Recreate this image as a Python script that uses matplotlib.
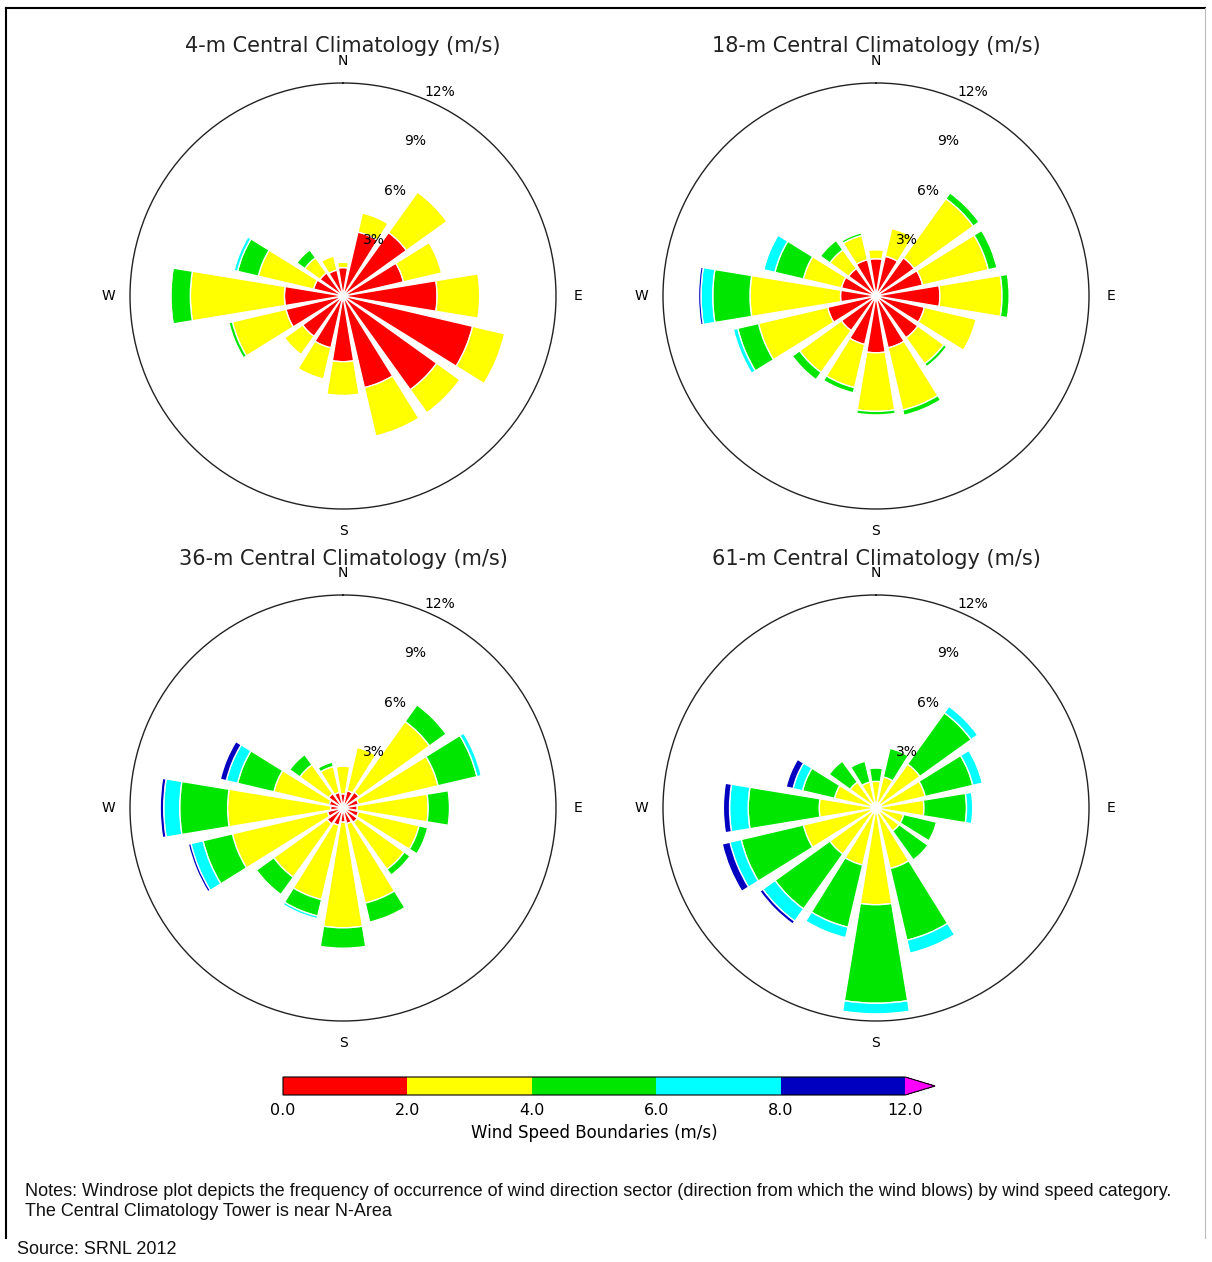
import numpy as np
import matplotlib
matplotlib.use("Agg")
import matplotlib.pyplot as plt
from matplotlib.colors import ListedColormap, BoundaryNorm
from matplotlib.cm import ScalarMappable
from matplotlib.lines import Line2D

# ---------------- data ----------------
directions = ["N", "NNE", "NE", "ENE", "E", "ESE", "SE", "SSE",
              "S", "SSW", "SW", "WSW", "W", "WNW", "NW", "NNW"]
speed_bounds = [0.0, 2.0, 4.0, 6.0, 8.0, 12.0]
speed_colors = ["#ff0000", "#ffff00", "#00e600", "#00ffff", "#0000c0"]
over_color = "#ff00ff"
titles = ["4-m Central Climatology (m/s)", "18-m Central Climatology (m/s)",
          "36-m Central Climatology (m/s)", "61-m Central Climatology (m/s)"]
r_ticks = [3, 6, 9, 12]
r_ticklabels = ["3%", "6%", "9%", "12%"]

# frequency (%) per direction for each speed class: 0-2, 2-4, 4-6, 6-8, 8-12 m/s
h4_c0 = [1.6, 3.7, 4.4, 3.5, 5.3, 7.5, 6.5, 5.3, 3.7, 3.0, 2.8, 3.3, 3.3, 1.7, 1.6, 1.5]
h4_c1 = [0.3, 1.1, 2.8, 2.2, 2.4, 1.85, 1.6, 2.8, 1.9, 1.8, 1.25, 3.1, 5.3, 3.2, 1.05, 0.8]
h4_c2 = [0, 0, 0, 0, 0, 0, 0, 0, 0, 0, 0, 0.2, 1.1, 1.2, 0.55, 0]
h4_c3 = [0, 0, 0, 0, 0, 0, 0, 0, 0, 0, 0, 0, 0.05, 0.2, 0, 0]
h4_c4 = [0, 0, 0, 0, 0, 0, 0, 0, 0, 0, 0, 0, 0, 0, 0, 0]

h18_c0 = [2.1, 2.3, 2.65, 2.7, 3.6, 2.8, 2.9, 3.0, 3.2, 2.8, 2.4, 2.8, 2.0, 2.0, 1.9, 2.1]
h18_c1 = [0.5, 1.6, 4.1, 3.8, 3.5, 3.0, 1.8, 3.6, 3.3, 2.5, 2.9, 4.0, 5.1, 2.2, 1.3, 1.4]
h18_c2 = [0, 0, 0.4, 0.5, 0.4, 0.05, 0.2, 0.3, 0.2, 0.3, 0.5, 1.2, 2.1, 1.65, 0.65, 0.15]
h18_c3 = [0, 0, 0, 0, 0, 0, 0, 0, 0, 0, 0, 0.25, 0.66, 0.65, 0, 0]
h18_c4 = [0, 0, 0, 0, 0, 0, 0, 0, 0, 0, 0, 0, 0.14, 0.05, 0, 0]

h36_c0 = [0.8, 1.0, 1.1, 0.9, 0.8, 0.9, 1.0, 0.9, 0.8, 1.0, 1.1, 0.9, 0.7, 0.8, 1.0, 0.9]
h36_c1 = [1.55, 2.5, 4.9, 4.6, 4.0, 3.5, 3.25, 4.6, 5.95, 4.3, 3.7, 5.5, 5.8, 3.2, 2.0, 1.5]
h36_c2 = [0, 0, 1.15, 2.25, 1.2, 0.5, 0.4, 1.1, 1.15, 0.95, 1.2, 1.7, 2.7, 2.1, 0.7, 0.25]
h36_c3 = [0, 0, 0, 0.25, 0, 0, 0, 0, 0, 0.15, 0, 0.7, 0.9, 0.65, 0, 0]
h36_c4 = [0, 0, 0, 0, 0, 0, 0, 0, 0, 0, 0, 0.15, 0.2, 0.35, 0, 0]

h61_c0 = [0.3, 0.3, 0.3, 0.3, 0.3, 0.3, 0.3, 0.3, 0.3, 0.3, 0.3, 0.3, 0.3, 0.3, 0.3, 0.3]
h61_c1 = [1.2, 1.5, 2.75, 2.55, 2.4, 1.3, 1.3, 3.2, 5.15, 3.0, 2.9, 3.9, 2.9, 2.1, 1.5, 1.2]
h61_c2 = [0.75, 1.65, 3.55, 2.75, 2.4, 1.9, 2.0, 4.15, 5.55, 3.6, 3.8, 3.6, 4.0, 1.85, 1.45, 1.2]
h61_c3 = [0, 0, 0.45, 0.55, 0.35, 0, 0, 0.75, 0.6, 0.6, 0.85, 0.65, 1.05, 0.55, 0, 0]
h61_c4 = [0, 0, 0, 0, 0, 0, 0, 0, 0, 0, 0.2, 0.45, 0.35, 0.4, 0, 0]

roses = [
    [h4_c0, h4_c1, h4_c2, h4_c3, h4_c4],
    [h18_c0, h18_c1, h18_c2, h18_c3, h18_c4],
    [h36_c0, h36_c1, h36_c2, h36_c3, h36_c4],
    [h61_c0, h61_c1, h61_c2, h61_c3, h61_c4],
]

note_line1 = ("Notes: Windrose plot depicts the frequency of occurrence of wind direction sector "
              "(direction from which the wind blows) by wind speed category.")
note_line2 = "The Central Climatology Tower is near N-Area"
source_text = "Source: SRNL 2012"

# ---------------- layout ----------------
W, H = 1212, 1262
fig = plt.figure(figsize=(W / 100, H / 100), dpi=100)
fig.patch.set_facecolor("white")

centers = [(343, 296), (876, 296), (343, 808), (876, 808)]
R = 213
title_y = [46, 46, 559, 559]

theta = np.deg2rad(np.arange(len(directions)) * 22.5)
bar_width = np.deg2rad(22.5) * 0.83

for i, (cx, cy) in enumerate(centers):
    ax = fig.add_axes([(cx - R) / W, 1 - (cy + R) / H, 2 * R / W, 2 * R / H],
                      projection="polar")
    ax.set_theta_zero_location("N")
    ax.set_theta_direction(-1)
    ax.set_axisbelow(False)
    bottom = np.zeros(len(directions))
    for vals, col in zip(roses[i], speed_colors):
        v = np.asarray(vals, dtype=float)
        mask = v > 0
        if mask.any():
            ax.bar(theta[mask], v[mask], width=bar_width, bottom=bottom[mask],
                   color=col, edgecolor="white", linewidth=1.0, align="center",
                   zorder=1)
        bottom = bottom + v
    ax.set_ylim(0, 12)
    ax.set_rgrids(r_ticks, labels=r_ticklabels, angle=22.5, fontsize=10)
    ax.set_xticks(np.deg2rad([0, 90, 180, 270]))
    ax.set_xticklabels(["N", "E", "S", "W"], fontsize=10)
    ax.tick_params(axis="x", pad=5)
    ax.grid(False)
    ax.spines["polar"].set_linewidth(1.0)
    ax.spines["polar"].set_color("#222222")
    fig.text(cx / W, 1 - title_y[i] / H, titles[i], ha="center", va="center",
             fontsize=15, color="#222222")

# colorbar (axes includes the extension triangle)
cax = fig.add_axes([283 / W, 1 - 1095 / H, 652 / W, 18 / H])
cmap = ListedColormap(speed_colors).with_extremes(over=over_color)
norm = BoundaryNorm(speed_bounds, cmap.N)
cb = fig.colorbar(ScalarMappable(norm=norm, cmap=cmap), cax=cax,
                  orientation="horizontal", extend="max", spacing="uniform",
                  ticks=speed_bounds, extendfrac=0.048)
cb.set_ticklabels([f"{b:.1f}" for b in speed_bounds])
cb.ax.tick_params(labelsize=11.5, length=0, pad=6)
cb.set_label("Wind Speed Boundaries (m/s)", fontsize=12, labelpad=4)
cb.outline.set_linewidth(0.8)

# notes
note_font = ["Liberation Sans Narrow", "Liberation Sans", "DejaVu Sans"]
fig.text(25 / W, 1 - 1191 / H, note_line1, ha="left", va="center",
         fontsize=12.95, family=note_font, color="#111111")
fig.text(25 / W, 1 - 1211 / H, note_line2, ha="left", va="center",
         fontsize=12.95, family=note_font, color="#111111")
fig.text(17 / W, 1 - 1250 / H, source_text, ha="left", va="center",
         fontsize=12.95, family=note_font, color="#111111")

# frame
fig.add_artist(Line2D([6 / W, 1205 / W], [1 - 8 / H, 1 - 8 / H],
                      transform=fig.transFigure, color="black", linewidth=1.5))
fig.add_artist(Line2D([6 / W, 6 / W], [1 - 8 / H, 1 - 1238 / H],
                      transform=fig.transFigure, color="black", linewidth=1.5))
fig.add_artist(Line2D([1205 / W, 1205 / W], [1 - 8 / H, 1 - 1238 / H],
                      transform=fig.transFigure, color="#bbbbbb", linewidth=0.8))

fig.savefig("out.png", dpi=100, facecolor="white")
